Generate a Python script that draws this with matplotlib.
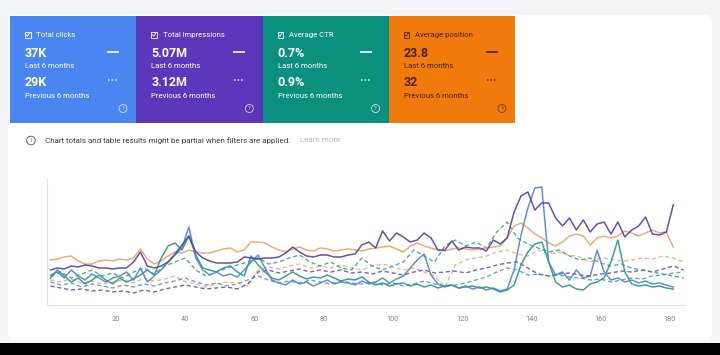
import matplotlib
matplotlib.use("Agg")
import matplotlib.pyplot as plt
from matplotlib.patches import Rectangle, FancyBboxPatch, Circle
import numpy as np

plt.rcParams["font.family"] = ["Roboto", "DejaVu Sans"]

# ---- summary cards ----
card_titles = ["Total clicks", "Total impressions", "Average CTR", "Average position"]
card_current = ["37K", "5.07M", "0.7%", "23.8"]
card_previous = ["29K", "3.12M", "0.9%", "32"]
card_colors = ["#4a86f2", "#5a37bb", "#0b8f7f", "#f07a0c"]
card_text_colors = ["white", "white", "white", "#4a2206"]

# ---- chart data (day index, current period = solid, previous period = dashed) ----
days_cur = list(range(1, 182, 2))
days_prev = list(range(1, 185, 3))

clicks_cur = [30, 33, 27, 35, 29, 25, 31, 27, 23, 27,
              29, 33, 25, 37, 23, 29, 35, 43, 50, 57,
              78, 47, 35, 30, 33, 29, 31, 28, 35, 43,
              50, 37, 25, 22, 20, 25, 21, 23, 19, 22,
              25, 21, 23, 22, 20, 24, 21, 23, 27, 22,
              26, 29, 37, 45, 51, 30, 21, 18, 20, 17,
              19, 16, 18, 15, 17, 14, 16, 35, 70, 97,
              117, 118, 43, 30, 33, 25, 35, 27, 29, 55,
              33, 25, 27, 23, 25, 22, 24, 21, 22, 20,
              18]
impressions_cur = [35, 37, 36, 39, 38, 40, 39, 37, 37, 36,
                   37, 37, 43, 53, 39, 37, 39, 43, 51, 60,
                   69, 53, 47, 44, 42, 42, 42, 43, 48, 47,
                   46, 47, 47, 48, 52, 58, 53, 49, 48, 50,
                   50, 48, 48, 50, 51, 60, 63, 57, 74, 64,
                   72, 68, 63, 65, 72, 67, 55, 55, 64, 55,
                   58, 57, 57, 54, 65, 61, 67, 93, 109, 113,
                   95, 102, 102, 87, 79, 87, 75, 85, 73, 81,
                   83, 71, 83, 68, 75, 79, 88, 71, 70, 73,
                   100]
ctr_cur = [27, 35, 29, 23, 27, 21, 25, 30, 25, 21,
           27, 23, 26, 30, 35, 30, 47, 59, 62, 55,
           69, 50, 37, 35, 33, 37, 39, 33, 29, 49,
           40, 33, 27, 25, 29, 33, 29, 26, 28, 27,
           30, 27, 24, 26, 25, 28, 23, 20, 22, 19,
           21, 22, 19, 21, 18, 20, 17, 19, 20, 17,
           18, 19, 17, 18, 16, 13, 15, 20, 40, 53,
           61, 63, 43, 23, 18, 20, 16, 15, 21, 23,
           27, 43, 65, 33, 21, 19, 20, 18, 19, 17,
           16]
position_cur = [45, 46, 48, 49, 44, 41, 41, 44, 45, 44,
                46, 45, 47, 56, 46, 41, 44, 49, 53, 52,
                55, 53, 52, 52, 54, 56, 57, 53, 55, 63,
                63, 62, 58, 55, 53, 56, 58, 55, 54, 57,
                56, 54, 55, 56, 55, 54, 56, 57, 58, 59,
                56, 53, 59, 62, 59, 57, 55, 54, 56, 57,
                56, 55, 56, 57, 58, 59, 67, 79, 82, 77,
                71, 67, 62, 59, 63, 69, 71, 69, 60, 67,
                69, 67, 69, 74, 72, 69, 72, 75, 72, 73,
                58]

clicks_prev = [23, 20, 22, 18, 21, 19, 17, 20, 18, 21,
               19, 22, 24, 27, 23, 20, 22, 19, 21, 25,
               29, 25, 22, 24, 22, 25, 23, 21, 24, 22,
               21, 23, 20, 22, 19, 21, 24, 21, 19, 20,
               22, 25, 28, 33, 37, 35, 30, 31, 29, 30,
               28, 27, 25, 26, 23, 25, 27, 26, 29, 30,
               32, 33]
impressions_prev = [19, 17, 15, 16, 14, 15, 13, 14, 12, 15,
                    13, 16, 18, 20, 18, 16, 17, 18, 16, 21,
                    33, 35, 32, 34, 36, 33, 35, 33, 35, 32,
                    33, 31, 34, 32, 30, 33, 35, 32, 33, 34,
                    32, 35, 37, 40, 42, 43, 37, 31, 29, 31,
                    32, 30, 29, 31, 32, 34, 33, 35, 33, 36,
                    39, 35]
ctr_prev = [29, 33, 27, 31, 35, 29, 32, 27, 33, 37,
            31, 39, 43, 47, 35, 29, 33, 37, 40, 43,
            47, 41, 43, 47, 50, 43, 39, 43, 37, 35,
            47, 39, 35, 39, 43, 55, 49, 43, 59, 65,
            59, 63, 57, 73, 83, 67, 61, 57, 53, 55,
            49, 45, 47, 42, 39, 41, 37, 35, 33, 31,
            29, 27]
position_prev = [25, 23, 26, 22, 24, 21, 23, 25, 22, 27,
                 24, 26, 29, 23, 21, 18, 21, 23, 22, 19,
                 35, 38, 36, 39, 41, 37, 39, 37, 40, 37,
                 35, 39, 41, 38, 35, 37, 33, 29, 18, 40,
                 45, 47, 49, 53, 55, 51, 49, 55, 51, 53,
                 50, 48, 43, 47, 46, 44, 45, 47, 46, 49,
                 47, 43]

x_ticks = [20, 40, 60, 80, 100, 120, 140, 160, 180]

line_colors = {"clicks": "#4f85cc", "impressions": "#54409a",
               "ctr": "#2a9683", "position": "#e4a66c"}

W, H = 720, 355
fig = plt.figure(figsize=(W / 100, H / 100), dpi=100)
fig.patch.set_facecolor("#f3f4f8")

# pixel-coordinate canvas for the page furniture
bg = fig.add_axes([0, 0, 1, 1])
bg.set_xlim(0, W)
bg.set_ylim(H, 0)
bg.axis("off")

bg.add_patch(FancyBboxPatch((8, 15), 704, 325, boxstyle="round,pad=0,rounding_size=6",
                            fc="white", ec="none"))
bg.add_patch(Rectangle((0, 343), W, 12, fc="black", ec="none"))

card_w, card_top, card_h = 126.3, 16, 107
for i, (title, cur, prev, col, tcol) in enumerate(
        zip(card_titles, card_current, card_previous, card_colors, card_text_colors)):
    ox = 10 + i * card_w
    bg.add_patch(Rectangle((ox, card_top), card_w, card_h, fc=col, ec="none"))
    # checkbox
    bg.add_patch(Rectangle((ox + 15, 32), 5.5, 5.5, fc="none", ec=tcol, lw=0.6))
    bg.plot([ox + 16.2, ox + 17.5, ox + 19.4], [34.8, 36.2, 33.2], color=tcol, lw=0.6)
    bg.text(ox + 26.5, 35, title, color=tcol, fontsize=5.6, va="center", ha="left")
    bg.text(ox + 15, 53.5, cur, color=tcol, fontsize=9, fontweight="bold", va="center")
    bg.text(ox + 15, 66, "Last 6 months", color=tcol, fontsize=5.6, va="center")
    bg.text(ox + 15, 82, prev, color=tcol, fontsize=9, fontweight="bold", va="center")
    bg.text(ox + 15, 96, "Previous 6 months", color=tcol, fontsize=5.6, va="center")
    bg.plot([ox + 98, ox + 108], [52, 52], color=tcol, lw=1.4, alpha=0.85)
    bg.plot([ox + 98, ox + 108], [80, 80], color=tcol, lw=1.1, ls=(0, (1, 1.3)), alpha=0.85)
    bg.add_patch(Circle((ox + 113, 108.5), 4, fc="none", ec=tcol, lw=0.6, alpha=0.75))
    bg.text(ox + 113, 108.7, "?", color=tcol, fontsize=4, ha="center", va="center", alpha=0.75)

# info line
bg.add_patch(Circle((31, 140.5), 4.3, fc="none", ec="#5f6368", lw=0.7))
bg.text(31, 140.7, "i", color="#5f6368", fontsize=4.5, ha="center", va="center")
bg.text(45, 140.5, "Chart totals and table results might be partial when filters are applied.",
        color="#3c4043", fontsize=5.8, va="center")
bg.text(300, 140.5, "Learn more", color="#b4b8c4", fontsize=5.8, va="center")

# ---- line chart ----
ax = fig.add_axes([47 / W, (H - 305) / H, 638 / W, 127 / H])
ax.set_facecolor("none")
ax.set_xlim(0, 184.4)
ax.set_ylim(0, 127)

dash = (0, (3, 2))
for key, vals in [("position", position_prev), ("impressions", impressions_prev),
                  ("ctr", ctr_prev), ("clicks", clicks_prev)]:
    ax.plot(days_prev, vals, color=line_colors[key], lw=1.0, ls=dash, alpha=0.8)
for key, vals in [("position", position_cur), ("ctr", ctr_cur),
                  ("clicks", clicks_cur), ("impressions", impressions_cur)]:
    ax.plot(days_cur, vals, color=line_colors[key], lw=1.1, alpha=0.9)

for s in ["top", "right"]:
    ax.spines[s].set_visible(False)
for s in ["left", "bottom"]:
    ax.spines[s].set_color("#e3e5e8")
    ax.spines[s].set_linewidth(0.8)
ax.set_xticks(x_ticks)
ax.set_xticklabels([str(t) for t in x_ticks])
ax.set_yticks([])
ax.tick_params(axis="x", length=0, pad=8, labelsize=5.3, labelcolor="#80868b")

fig.savefig("out.png", dpi=100, facecolor=fig.get_facecolor())
